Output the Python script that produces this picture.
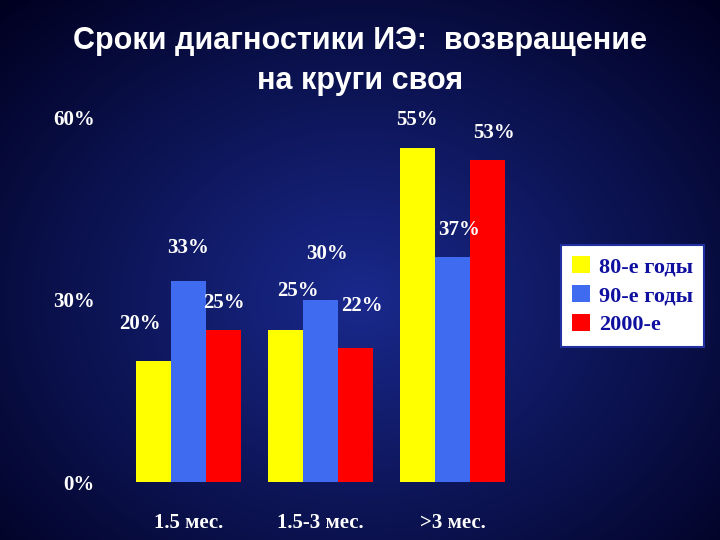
import numpy as np, pandas as pd, seaborn as sns, matplotlib
matplotlib.use("Agg")
import matplotlib.pyplot as plt

categories = ["1.5 мес.", "1.5-3 мес.", ">3 мес."]
series = ["80-е годы", "90-е годы", "2000-е"]
v80 = [20, 25, 55]
v90 = [33, 30, 37]
v2000 = [25, 22, 53]
yticks = [0, 30, 60]
colors = ["#FFFF00", "#3F6BF0", "#FF0000"]

df = pd.DataFrame({"cat": categories * 3,
                   "ser": sum([[s] * 3 for s in series], []),
                   "val": v80 + v90 + v2000})

fig = plt.figure(figsize=(7.2, 5.4), dpi=100)
bg = fig.add_axes([0, 0, 1, 1])
yy, xx = np.mgrid[0:540, 0:720]
r = np.sqrt(((xx - 360) / 520) ** 2 + ((yy - 300) / 420) ** 2)
t = np.clip(r, 0, 1)[..., None]
c1 = np.array([0.10, 0.16, 0.55]); c0 = np.array([0.0, 0.0, 0.12])
bg.imshow(c1 * (1 - t) + c0 * t, aspect="auto")
bg.axis("off")

ax = fig.add_axes([0.17, 0.107, 0.55, 0.676])
ax.set_facecolor("none")
sns.barplot(data=df, x="cat", y="val", hue="ser", palette=colors, ax=ax,
            width=0.8, gap=0.0, edgecolor="none", saturation=1)
ax.set_ylim(0, 60)
ax.set_yticks(yticks)
ax.set_yticklabels([f"{v}%" for v in yticks])
ax.set_xlabel(""); ax.set_ylabel("")
for s in ax.spines.values():
    s.set_visible(False)
ax.tick_params(length=0, colors="white", labelsize=15)
for lab in ax.get_xticklabels() + ax.get_yticklabels():
    lab.set_fontfamily("Liberation Serif"); lab.set_fontweight("bold")
ax.tick_params(axis="x", pad=22)
ax.tick_params(axis="y", pad=20)

offs = [[(-0.1, 6), (0.1, 6.5), (0.0, 4.5)],
        [(0.0, 5.5), (0.05, 7.5), (0.05, 4.4)],
        [(0.0, 4.5), (0.05, 7.0), (0.05, 4.4)]]
for si, cont in enumerate(ax.containers):
    for ci, bar in enumerate(cont):
        dx, dy = offs[si][ci]
        x = bar.get_x() + bar.get_width() / 2
        h = bar.get_height()
        ax.text(x + dx, h + dy, f"{h:.0f}%", ha="center", va="center",
                color="white", fontsize=15, fontweight="bold",
                fontfamily="Liberation Serif")

leg = ax.legend(loc="upper left", bbox_to_anchor=(1.08, 0.68), frameon=True,
                fancybox=False, handlelength=0.8, handleheight=0.8,
                prop={"family": "Liberation Serif", "weight": "bold", "size": 16},
                labelcolor="#1010A0", borderpad=0.5, handletextpad=0.4,
                labelspacing=0.35)
leg.get_frame().set_edgecolor("#2030A0"); leg.get_frame().set_linewidth(1.5)
leg.get_frame().set_facecolor("white"); leg.get_frame().set_alpha(1)

fig.text(0.5, 0.925, "Сроки диагностики ИЭ:  возвращение", ha="center", va="center",
         color="white", fontsize=22, fontweight="bold", fontfamily="Liberation Sans")
fig.text(0.5, 0.85, "на круги своя", ha="center", va="center",
         color="white", fontsize=22, fontweight="bold", fontfamily="Liberation Sans")
fig.savefig("out.png", dpi=100)
